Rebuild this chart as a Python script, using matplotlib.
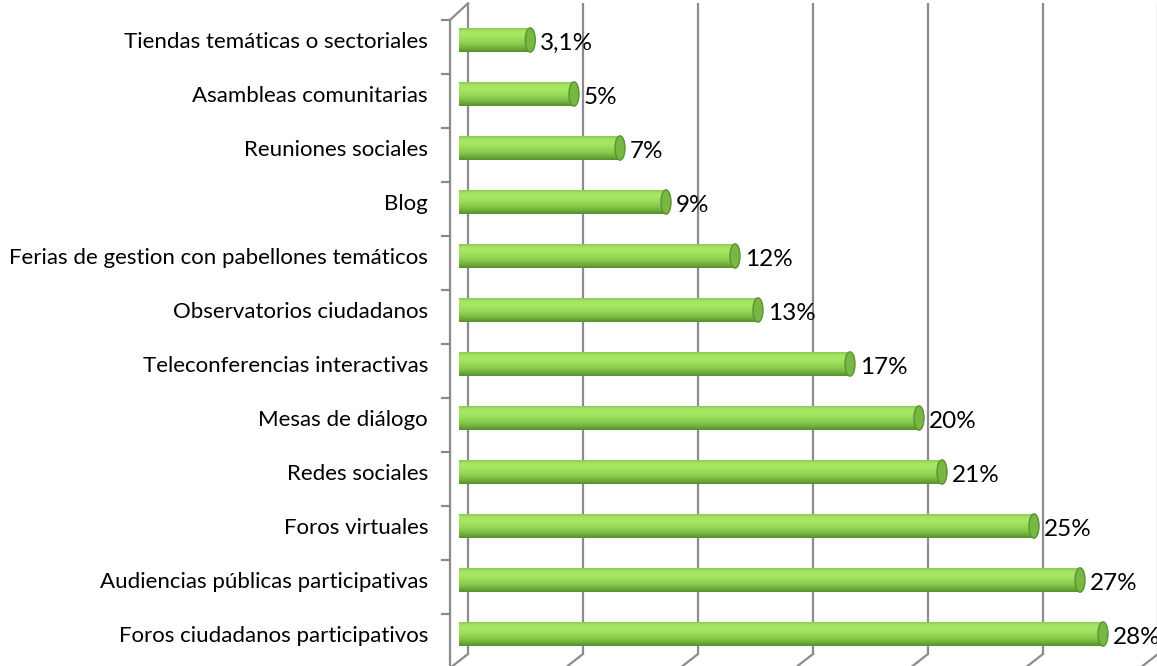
import numpy as np
import matplotlib
matplotlib.use("Agg")
import matplotlib.pyplot as plt
from matplotlib.patches import Ellipse
from matplotlib.transforms import ScaledTranslation, blended_transform_factory

# Survey results: share of respondents per participation mechanism
categories = [
    "Foros ciudadanos participativos",
    "Audiencias públicas participativas",
    "Foros virtuales",
    "Redes sociales",
    "Mesas de diálogo",
    "Teleconferencias interactivas",
    "Observatorios ciudadanos",
    "Ferias de gestion con pabellones temáticos",
    "Blog",
    "Reuniones sociales",
    "Asambleas comunitarias",
    "Tiendas temáticas o sectoriales",
]
values = [28, 27, 25, 21, 20, 17, 13, 12, 9, 7, 5, 3.1]
value_labels = ["28%", "27%", "25%", "21%", "20%", "17%", "13%", "12%", "9%", "7%", "5%", "3,1%"]
x_ticks = [0, 5, 10, 15, 20, 25, 30]

W, H, DPI = 1157, 666, 100
fig = plt.figure(figsize=(W / DPI, H / DPI), dpi=DPI)

# plot plane (middle depth of the 3-D box) in pixels
left_px, right_px = 459, 1149
top_px, bot_px = 13, 661
ax = fig.add_axes([left_px / W, (H - bot_px) / H,
                   (right_px - left_px) / W, (bot_px - top_px) / H])
xmax = 30
ax.set_xlim(0, xmax)
ax.set_ylim(-0.5, len(categories) - 0.5)
ax.axis("off")

px_per_unit = (right_px - left_px) / xmax
dx_px, dy_px = 9, 7   # half depth offset of the 3-D box
back = ax.transData + ScaledTranslation(dx_px / DPI, dy_px / DPI, fig.dpi_scale_trans)
front = ax.transData + ScaledTranslation(-dx_px / DPI, -dy_px / DPI, fig.dpi_scale_trans)

grid_col = "#8c8c8c"
lw = 1.6
y_lo, y_hi = -0.5, len(categories) - 0.5
for xv in x_ticks:
    # vertical gridline on the back wall
    ax.plot([xv, xv], [y_lo, y_hi + 0.05], color=grid_col, lw=lw, transform=back,
            clip_on=False, solid_capstyle="butt", zorder=1)
    # floor edge from back wall to front
    bx, by = back.transform((xv, y_lo))
    fx, fy = front.transform((xv, y_lo))
    ax.plot([bx, fx], [by, fy], color=grid_col, lw=lw, transform=None,
            clip_on=False, zorder=1)

# left side wall: front edge and top edge
ax.plot([0, 0], [y_lo, y_hi], color=grid_col, lw=lw, transform=front,
        clip_on=False, zorder=1)
bx, by = back.transform((0, y_hi + 0.05))
fx, fy = front.transform((0, y_hi))
ax.plot([bx, fx], [by, fy], color=grid_col, lw=lw, transform=None,
        clip_on=False, zorder=1)
# category ticks on the left wall
for yb in np.arange(y_lo, y_hi + 0.01, 1.0):
    fx, fy = front.transform((0, yb))
    ax.plot([fx - 8, fx], [fy, fy], color=grid_col, lw=lw, transform=None,
            clip_on=False, zorder=1)

# cylinder shading (top -> bottom)
shade = np.array([
    [0.50, 0.76, 0.30],
    [0.64, 0.88, 0.39],
    [0.66, 0.91, 0.40],
    [0.63, 0.88, 0.37],
    [0.58, 0.84, 0.33],
    [0.52, 0.78, 0.29],
    [0.44, 0.68, 0.24],
    [0.34, 0.56, 0.18],
])
grad = np.linspace(0, 1, 64)
idx = np.linspace(0, len(shade) - 1, len(shade))
rgb = np.stack([np.interp(grad * (len(shade) - 1), idx, shade[:, c]) for c in range(3)], axis=1)
img = rgb[:, None, :]  # rows top->bottom

bar_h = 0.45
cap_w = 10 / px_per_unit
ypos = np.arange(len(categories))
bars = ax.barh(ypos, values, height=bar_h, color="none", edgecolor="none", zorder=3)
for b, v, y in zip(bars, values, ypos):
    y0, y1 = y - bar_h / 2, y + bar_h / 2
    # body
    im = ax.imshow(img, extent=(0, v, y0, y1), aspect="auto", origin="upper",
                   interpolation="bilinear", zorder=3)
    im.set_clip_path(b)
    # rounded left end
    lcap = Ellipse((0, y), cap_w, bar_h, facecolor="none", edgecolor="none",
                   transform=ax.transData)
    ax.add_patch(lcap)
    im2 = ax.imshow(img, extent=(-cap_w / 2, cap_w / 2, y0, y1), aspect="auto",
                    origin="upper", interpolation="bilinear", zorder=3)
    im2.set_clip_path(lcap)
    # right end cap
    rcap = Ellipse((v, y), cap_w, bar_h, facecolor="#78b842",
                   edgecolor="#5a9432", lw=1.0, zorder=4)
    ax.add_patch(rcap)

# value labels next to each cap
for v, y, lab in zip(values, ypos, value_labels):
    ax.annotate(lab, xy=(v, y), xytext=(10, -3), textcoords="offset pixels",
                ha="left", va="center", fontsize=17.5, family="Lato",
                color="black", annotation_clip=False, zorder=5)

# category labels right-aligned left of the wall
lab_tr = blended_transform_factory(fig.transFigure, ax.transData)
for y, c in zip(ypos, categories):
    ax.text(428 / W, y - 0.03, c, transform=lab_tr, ha="right", va="center",
            fontsize=16, family="Lato", color="black")

fig.savefig("out.png", dpi=DPI, facecolor="white")
